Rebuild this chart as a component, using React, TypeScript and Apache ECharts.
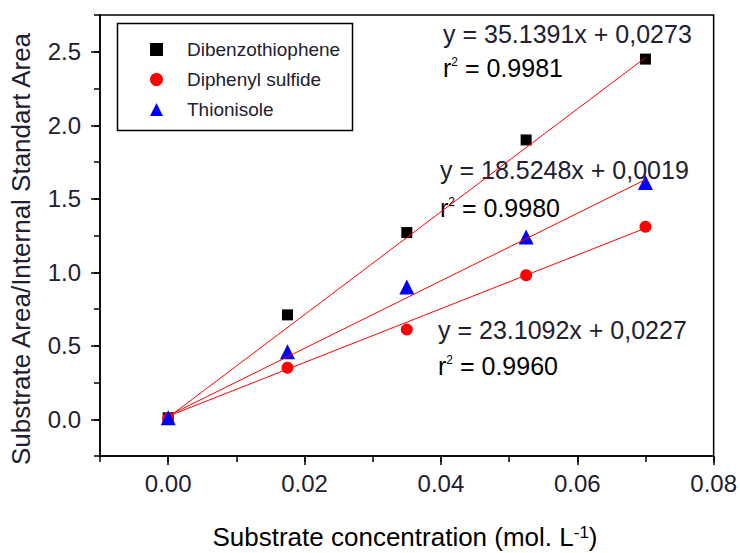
import React, { useEffect, useRef } from "react";
import * as echarts from "echarts";

const concentrations = [0, 0.0175, 0.035, 0.0525, 0.07];
const dibenzothiophene = [0.01, 0.71, 1.27, 1.9, 2.45];
const diphenylSulfide = [0.005, 0.35, 0.61, 0.98, 1.31];
const thionisole = [0.01, 0.46, 0.9, 1.24, 1.61];

// fit line endpoints [x, y]
const dbtFit = [[0.0005, 0.03], [0.07, 2.46]];
const thiFit = [[0.0005, 0.035], [0.07, 1.63]];
const dpsFit = [[0.0005, 0.03], [0.07, 1.3]];

const xMajorTicks = [0, 0.02, 0.04, 0.06, 0.08];
const yMajorTicks = [0, 0.5, 1.0, 1.5, 2.0, 2.5];

const equations = [
  { eq: "y = 35.1391x + 0,0273", r2: "0.9981" },
  { eq: "y = 18.5248x + 0,0019", r2: "0.9980" },
  { eq: "y = 23.1092x + 0,0227", r2: "0.9960" },
];

const FONT = "Liberation Sans, Arial, sans-serif";
const TXT = "#202030";

export default function App() {
  const ref = useRef<HTMLDivElement>(null);
  useEffect(() => {
    if (!ref.current) return;
    const chart = echarts.init(ref.current, null, { renderer: "svg" });
    const pts = (ys: number[]) => concentrations.map((x, i) => [x, ys[i]]);
    const eqPos = [
      { x: 443, y: 34, y2: 68 },
      { x: 440, y: 170, y2: 208 },
      { x: 438, y: 330, y2: 366 },
    ];
    const eqGraphics: any[] = [];
    equations.forEach((e, i) => {
      eqGraphics.push({
        type: "text",
        x: eqPos[i].x,
        y: eqPos[i].y,
        style: { text: e.eq, fontSize: 25, fontFamily: FONT, fill: TXT, verticalAlign: "middle" },
      });
      eqGraphics.push({
        type: "text",
        x: eqPos[i].x,
        y: eqPos[i].y2,
        style: {
          text: "{a|r}{s|2}{a| = " + e.r2 + "}",
          verticalAlign: "middle",
          rich: {
            a: { fontSize: 25, fontFamily: FONT, color: TXT },
            s: { fontSize: 12, fontFamily: FONT, color: TXT, padding: [0, 0, 13, 0] },
          },
        },
      });
    });
    const option: any = {
      animation: false,
      backgroundColor: "#ffffff",
      grid: {
        left: 100,
        right: 26,
        top: 15,
        bottom: 97,
        show: true,
        borderColor: "#000",
        borderWidth: 1.5,
        backgroundColor: "transparent",
      },
      legend: {
        orient: "vertical",
        left: 150,
        top: 40,
        itemWidth: 13,
        itemHeight: 13,
        itemGap: 11,
        padding: 0,
        data: ["Dibenzothiophene", "Diphenyl sulfide", "Thionisole"],
        textStyle: { fontSize: 19, fontFamily: FONT, color: TXT, padding: [0, 0, 0, 19] },
      },
      xAxis: [
        {
          type: "value",
          min: -0.01,
          max: 0.08,
          interval: 0.01,
          position: "bottom",
          splitLine: { show: false },
          axisLine: { show: true, onZero: false, lineStyle: { color: "#000", width: 1.5 } },
          axisTick: { show: true, length: 6, lineStyle: { color: "#000", width: 1.5 } },
          axisLabel: {
            margin: 15,
            fontSize: 24,
            fontFamily: FONT,
            color: TXT,
            formatter: (v: number) => (Math.round(v * 100) % 2 === 0 ? v.toFixed(2) : ""),
          },
        },
        {
          type: "value",
          min: -0.01,
          max: 0.08,
          position: "bottom",
          splitLine: { show: false },
          axisLine: { show: false, onZero: false },
          axisTick: { show: true, length: 9, customValues: xMajorTicks, lineStyle: { color: "#000", width: 1.5 } },
          axisLabel: { show: false },
        },
      ],
      yAxis: [
        {
          type: "value",
          min: -0.25,
          max: 2.75,
          interval: 0.25,
          position: "left",
          splitLine: { show: false },
          axisLine: { show: true, onZero: false, lineStyle: { color: "#000", width: 1.5 } },
          axisTick: { show: true, length: 6, lineStyle: { color: "#000", width: 1.5 } },
          axisLabel: {
            margin: 19,
            fontSize: 24,
            fontFamily: FONT,
            color: TXT,
            formatter: (v: number) => (Math.round(v * 100) % 50 === 0 && v >= 0 && v <= 2.5 ? v.toFixed(1) : ""),
          },
        },
        {
          type: "value",
          min: -0.25,
          max: 2.75,
          position: "left",
          splitLine: { show: false },
          axisLine: { show: false, onZero: false },
          axisTick: { show: true, length: 9, customValues: yMajorTicks, lineStyle: { color: "#000", width: 1.5 } },
          axisLabel: { show: false },
        },
      ],
      series: [
        {
          name: "Dibenzothiophene",
          type: "scatter",
          symbol: "rect",
          symbolSize: 11,
          itemStyle: { color: "#000000", opacity: 1 },
          data: pts(dibenzothiophene),
          z: 3,
        },
        {
          name: "Diphenyl sulfide",
          type: "scatter",
          symbol: "circle",
          symbolSize: 12,
          itemStyle: { color: "#ff0000", opacity: 1 },
          data: pts(diphenylSulfide),
          z: 3,
        },
        {
          name: "Thionisole",
          type: "scatter",
          symbol: "triangle",
          symbolSize: 15,
          itemStyle: { color: "#0000ff", opacity: 1 },
          data: pts(thionisole),
          z: 3,
        },
        ...[dbtFit, thiFit, dpsFit].map((d) => ({
          type: "line",
          data: d,
          symbol: "none",
          lineStyle: { color: "#ff0000", width: 1 },
          z: 5,
          silent: true,
        })),
      ],
      graphic: [
        {
          type: "rect",
          shape: { x: 117.5, y: 23.5, width: 235, height: 107 },
          style: { fill: "none", stroke: "#000", lineWidth: 1.5 },
        },
        {
          type: "text",
          x: 21,
          y: 249,
          rotation: Math.PI / 2,
          style: {
            text: "Substrate Area/Internal Standart Area",
            fontSize: 26,
            fontFamily: FONT,
            fill: TXT,
            align: "center",
            verticalAlign: "middle",
          },
        },
        {
          type: "text",
          x: 405,
          y: 537,
          style: {
            text: "{a|Substrate concentration (mol. L}{s|-1}{a|)}",
            align: "center",
            verticalAlign: "middle",
            rich: {
              a: { fontSize: 26, fontFamily: FONT, color: TXT },
              s: { fontSize: 17, fontFamily: FONT, color: TXT, padding: [0, 0, 10, 0] },
            },
          },
        },
        ...eqGraphics,
      ],
    };
    chart.setOption(option);
    return () => chart.dispose();
  }, []);
  return (
    <div
      ref={ref}
      style={{ position: "fixed", left: 0, top: 0, width: 740, height: 553, background: "#fff" }}
    />
  );
}
